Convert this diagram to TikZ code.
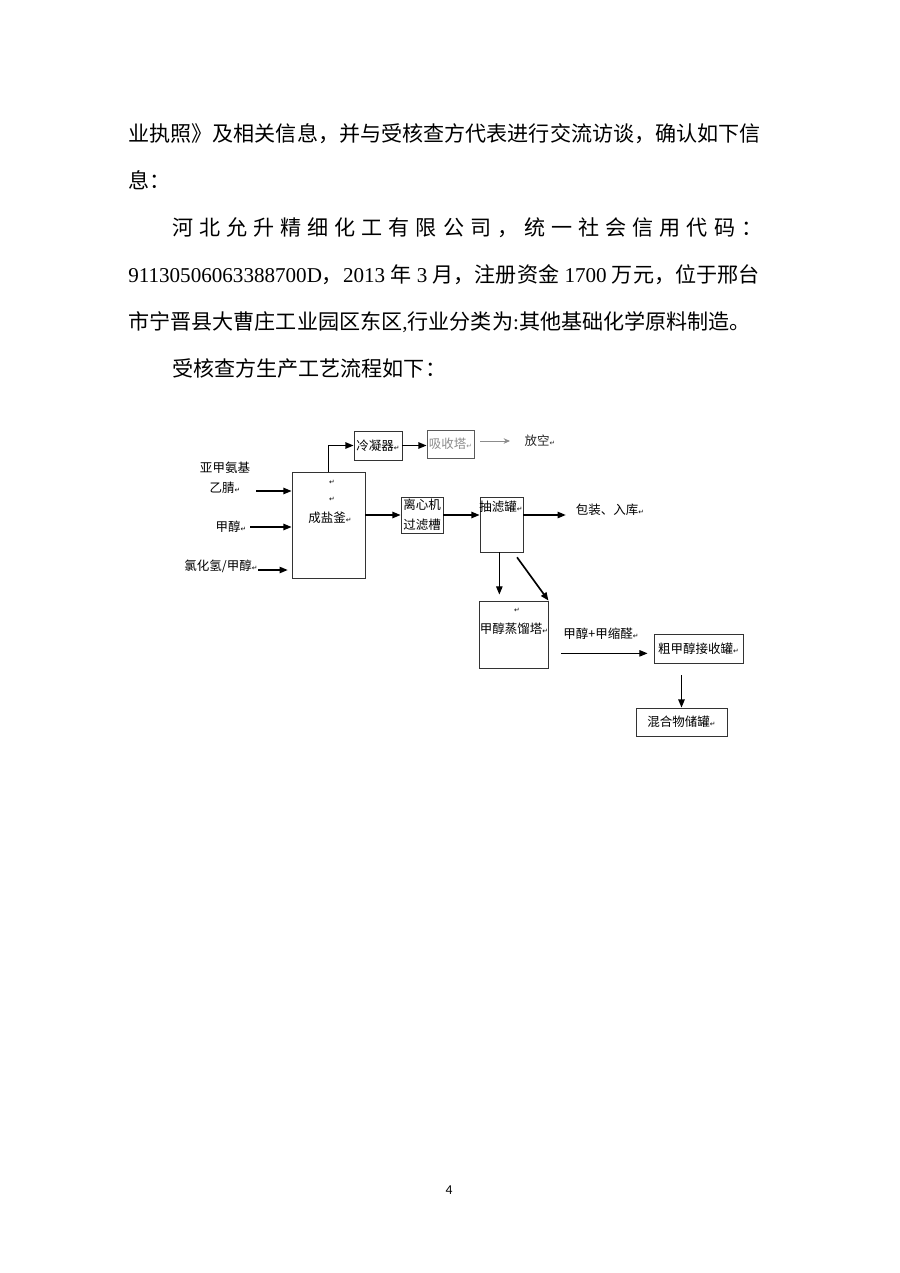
\documentclass[tikz,border=0pt]{standalone}
\usepackage{fontspec}
\setmainfont{Liberation Serif}
\newfontfamily\cjk{Noto Sans CJK SC}
\newfontfamily\sym{DejaVu Sans}
\newfontfamily\pagefont{Carlito}
\usepackage{tikz}
\usetikzlibrary{arrows.meta,positioning}

\newcommand\pxl{0.23333mm}
\newcommand\bodyfont{\cjk\fontsize{14}{14}\selectfont}
\newcommand\chartfont{\cjk\fontsize{8.3}{13}\selectfont}
\newcommand\ret{{\sym\fontsize{4.5}{4.5}\selectfont ↵}}
\newcommand\lat[1]{{\rmfamily #1}}

\tikzset{
  para/.style={anchor=base west, inner sep=0pt, font=\bodyfont},
  tag/.style={inner sep=0pt, font=\chartfont, align=center}
}

\begin{document}
\begin{tikzpicture}[x=0.23333mm, y=-0.23333mm]
    \fill[white] (0,0) rectangle (900,1273);
    \useasboundingbox (0,0) rectangle (900,1273);

    \node[para] (l1) at (128,141) {业执照》及相关信息，并与受核查方代表进行交流访谈，确认如下信};
    \node[para] (l2) at (128,188) {息：};
    \foreach \c [count=\i from 0] in {河,北,允,升,精,细,化,工,有,限,公,司,，,统,一,社,会,信,用,代,码,：}
      \node[para] (c\i) at (171.7+27.1*\i,235) {\c};
    \node[para] (l4) at (128,282) {\lat{91130506063388700D}，\lat{2013 }年\lat{ 3 }月，注册资金\lat{ 1700 }万元，位于邢台};
    \node[para] (l5) at (128,329) {市宁晋县大曹庄工业园区东区\lat{,}行业分类为\lat{:}其他基础化学原料制造。};
    \node[para] (l6) at (171.7,376) {受核查方生产工艺流程如下：};
    \node[anchor=base, inner sep=0pt, font=\pagefont\fontsize{9}{9}\selectfont] (pg) at (449,1194) {4};

    \begin{scope}[every node/.style={draw=black!80, line width=0.6pt, inner sep=0pt,
        font=\chartfont, align=center}]
      \node[minimum width=48*\pxl, minimum height=29*\pxl] (cond) at (378,445.5) {冷凝器\ret};
      \node[minimum width=47*\pxl, minimum height=28*\pxl, draw=black!65, text=black!45]
        (absorb) at (450.5,444) {吸收塔\ret};
      \node[minimum width=73*\pxl, minimum height=106*\pxl] (salt) at (328.5,525) {};
      \node[minimum width=42*\pxl, minimum height=36*\pxl] (centri) at (422,515) {离心机\\过滤槽};
      \node[minimum width=43*\pxl, minimum height=55*\pxl] (suction) at (501.5,524.5) {};
      \node[minimum width=69*\pxl, minimum height=67*\pxl] (distill) at (513.5,634.5) {};
      \node[minimum width=89*\pxl, minimum height=29*\pxl] (receive) at (698.5,648.5) {粗甲醇接收罐\ret};
      \node[minimum width=91*\pxl, minimum height=28*\pxl] (store) at (681.5,722) {混合物储罐\ret};
    \end{scope}

    \node[tag] (saltmk1) at (332,482) {\ret};
    \node[tag] (saltmk2) at (332,499) {\ret};
    \node[tag] (salttxt) at (330,518) {成盐釜\ret};
    \node[tag] (suctxt) at (501,507) {抽滤罐\ret};
    \node[tag] (distmk) at (517,610) {\ret};
    \node[tag] (distxt) at (514,629) {甲醇蒸馏塔\ret};
    \node[tag] (feed1) at (225,478) {亚甲氨基\\乙腈\ret};
    \node[tag] (feed2) at (231,527) {甲醇\ret};
    \node[tag] (feed3) at (221,566) {氯化氢/甲醇\ret};
    \node[tag, text=black!85] (vent) at (540,441) {放空\ret};
    \node[tag] (pack) at (610,510) {包装、入库\ret};

    \coordinate (f1) at (256,491);
    \coordinate (f2) at (250,527);
    \coordinate (f3) at (258,570);
    \coordinate (g0) at (480,441);
    \coordinate (g1) at (510,441);

    \begin{scope}[>={Triangle[length=1.9mm,width=1.5mm]}, line width=0.85pt]
      \draw[->] (f1) -- (f1 -| salt.west);
      \draw[->] (f2) -- (f2 -| salt.west);
      \draw[->, shorten >=0.9mm] (f3) -- (f3 -| salt.west);
      \draw[->] (salt.north) |- (cond.west);
      \draw[->] (cond.east) -- (cond.east -| absorb.west);
      \draw[->, >={Stealth[length=1.5mm,width=1.3mm]}, draw=black!45, line width=0.6pt] (g0) -- (g1);
      \draw[->] (salt.east |- centri.west) -- (centri.west);
      \draw[->] (centri.east) -- (centri.east -| suction.west);
      \draw[->, shorten >=2.3mm] (centri.east -| suction.east) -- (centri.east -| pack.west);
      \draw[->, line width=0.7pt, shorten >=1.4mm] ([xshift=-0.5mm]suction.south) -- ([xshift=-0.5mm]suction.south |- distill.north);
      \draw[->, line width=1.1pt, shorten <=1.4mm] ([xshift=2.8mm]suction.south) -- (distill.north east);
      \draw[->, line width=0.7pt, shorten <=3mm, shorten >=1.4mm] ([yshift=-4.4mm]distill.east) -- ([yshift=-4.4mm]distill.east -| receive.west)
        node[tag, midway, above=3.2mm] (mixlbl) {甲醇+甲缩醛\ret};
      \draw[->, shorten <=2.8mm] (receive.south -| store.north) -- (store.north);
    \end{scope}
\end{tikzpicture}
\end{document}
